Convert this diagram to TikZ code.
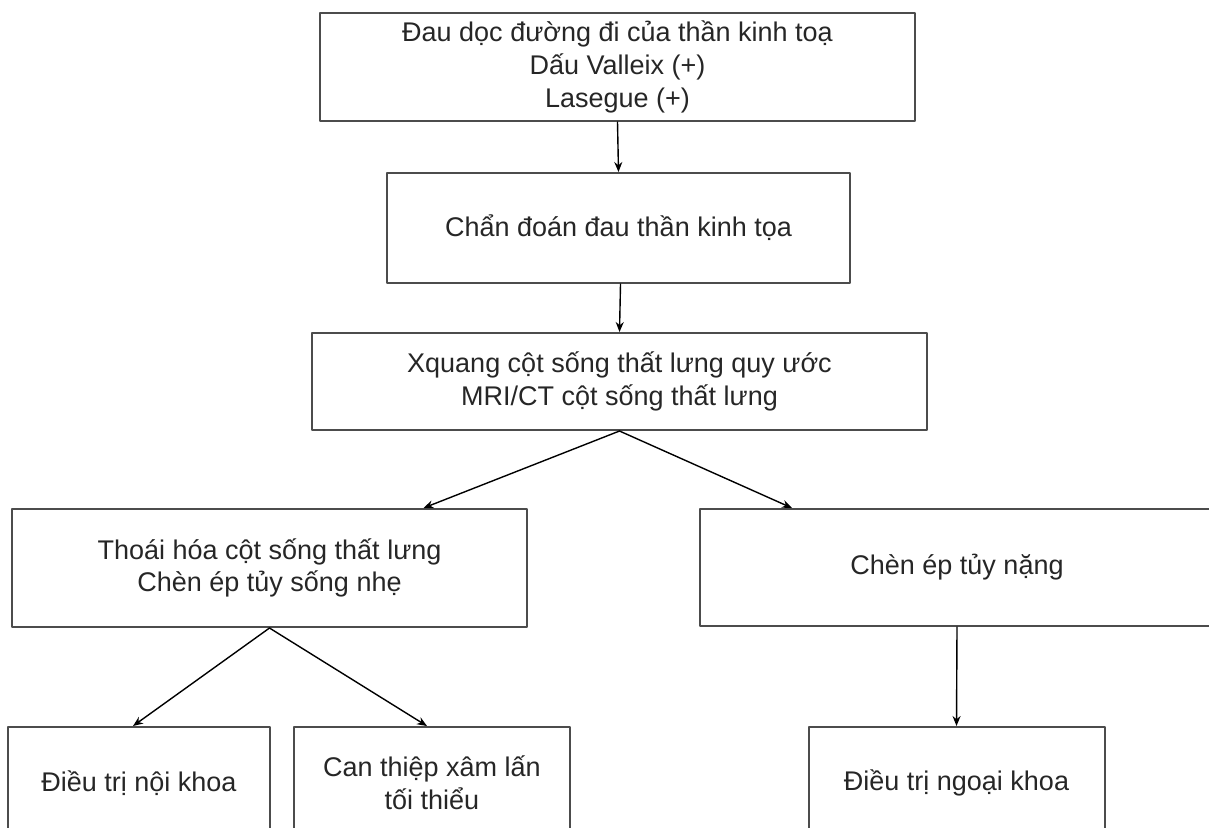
\documentclass[tikz,border=0pt]{standalone}
\usepackage{fontspec}
\setmainfont{Liberation Sans}
\usetikzlibrary{arrows.meta}
\begin{document}
\begin{tikzpicture}[x=0.5pt, y=-0.5pt, font=\fontsize{13.5}{16.3}\selectfont, line join=round, line cap=round, >={Stealth[length=5pt,width=4pt]},
		box/.style={draw=black!70, line width=1pt, align=center, inner sep=0pt, text=black!85},
		arr/.style={->, line width=0.7pt}]
			\useasboundingbox (0,0) rectangle (1209,827);
			\node[box, minimum width=297.5pt, minimum height=54pt] (trieuchung) at (617.5,67) {Đau dọc đường đi của thần kinh toạ\\Dấu Valleix (+)\\Lasegue (+)};
			\node[box, minimum width=231.5pt, minimum height=55pt] (chandoan) at (618.5,228) {Chẩn đoán đau thần kinh tọa};
			\node[box, minimum width=307.5pt, minimum height=48.5pt] (xquang) at (619.5,381.5) {Xquang cột sống thất lưng quy ước\\MRI/CT cột sống thất lưng};
			\node[box, minimum width=257.5pt, minimum height=59pt] (thoaihoa) at (269.5,568) {Thoái hóa cột sống thất lưng\\Chèn ép tủy sống nhẹ};
			\node[box, minimum width=257pt, minimum height=58.5pt] (nang) at (957,567.5) {Chèn ép tủy nặng};
			\node[box, minimum width=131pt, minimum height=56pt] (noikhoa) at (139,783) {Điều trị nội khoa};
			\node[box, minimum width=138pt, minimum height=56pt] (canthiep) at (432,783) {Can thiệp xâm lấn\\tối thiểu};
			\node[box, minimum width=148pt, minimum height=56pt] (ngoaikhoa) at (956.5,783) {Điều trị ngoại khoa};
			\draw[arr] (trieuchung.south) -- (chandoan.north);
			\draw[arr] ([xshift=1pt]chandoan.south) -- (xquang.north);
			\draw[arr] (xquang.south) -- ([xshift=77pt]thoaihoa.north);
			\draw[arr] (xquang.south) -- ([xshift=-82.5pt]nang.north);
			\draw[arr] (thoaihoa.south) -- ([xshift=-3pt]noikhoa.north);
			\draw[arr] (thoaihoa.south) -- ([xshift=-2.5pt]canthiep.north);
			\draw[arr] (nang.south) -- (ngoaikhoa.north);
		\end{tikzpicture}
\end{document}
